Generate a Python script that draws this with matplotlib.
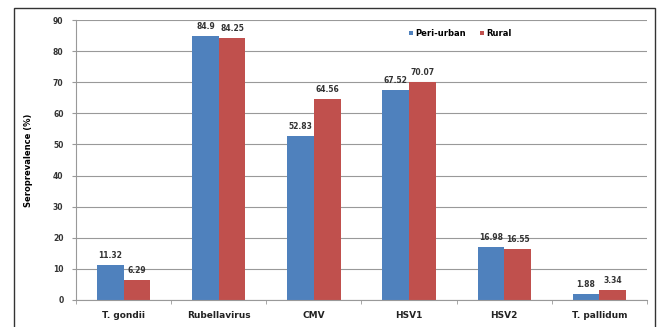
import numpy as np
import matplotlib.pyplot as plt
from matplotlib.patches import Rectangle

categories = ['T. gondii', 'Rubellavirus', 'CMV', 'HSV1', 'HSV2', 'T. pallidum']
peri_urban = [11.32, 84.9, 52.83, 67.52, 16.98, 1.88]
rural = [6.29, 84.25, 64.56, 70.07, 16.55, 3.34]
blue = '#4F81BD'
red = '#C0504D'

fig = plt.figure(figsize=(6.57, 3.27), dpi=100)
ax = fig.add_axes([0.1157, 0.0826, 0.869, 0.856])

x = np.arange(len(categories))
w = 0.28
b1 = ax.bar(x - w / 2, peri_urban, w, color=blue, label='Peri-urban')
b2 = ax.bar(x + w / 2, rural, w, color=red, label='Rural')

for bars, vals in ((b1, peri_urban), (b2, rural)):
    for b, v in zip(bars, vals):
        ax.text(b.get_x() + b.get_width() / 2, v + 1.6, f'{v:g}',
                ha='center', va='bottom', fontsize=5.5, fontweight='bold', color='#333333')

ax.set_xlim(-0.5, len(categories) - 0.5)
ax.set_ylim(0, 90)
ax.set_yticks(np.arange(0, 91, 10))
ax.yaxis.grid(True, color='#999999', linewidth=0.8)
ax.set_axisbelow(True)
ax.set_xticks(x)
ax.set_xticklabels(categories, fontsize=6.5, fontweight='bold', color='#222222')
ax.set_xticks(np.arange(-0.5, len(categories)), minor=True)
ax.tick_params(axis='x', which='major', length=0, pad=8)
ax.tick_params(axis='x', which='minor', length=3, color='#999999')
ax.tick_params(axis='y', length=3, color='#999999', labelsize=5.5, pad=6, labelcolor='#333333')
for lab in ax.get_yticklabels():
    lab.set_fontweight('bold')
for s in ['top', 'right']:
    ax.spines[s].set_visible(False)
ax.spines['left'].set_color('#999999')
ax.spines['bottom'].set_color('#999999')

ax.set_ylabel('Seroprevalence (%)', fontsize=6, fontweight='bold', labelpad=14)

leg = ax.legend(loc='upper left', bbox_to_anchor=(0.57, 0.995), ncol=2, frameon=False,
                handlelength=0.5, handleheight=0.5, columnspacing=1.6,
                handletextpad=0.3, prop={'weight': 'bold', 'size': 6})

fig.patches.append(Rectangle((14 / 657, -0.05), 641 / 657, 1 - 8 / 327 + 0.05,
                             transform=fig.transFigure, fill=False,
                             edgecolor='#333333', linewidth=1.0))

fig.savefig('out.png', dpi=100)
